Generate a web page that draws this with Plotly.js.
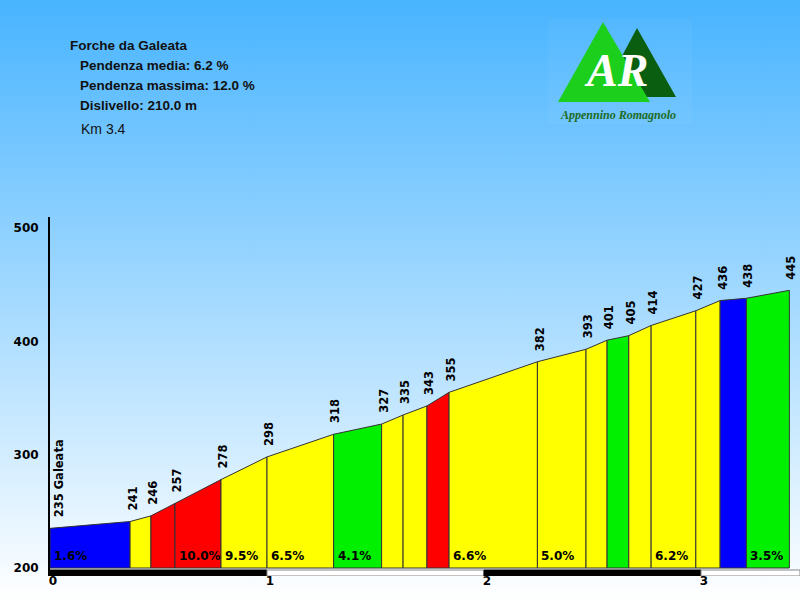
<!DOCTYPE html>
<html>
<head>
<meta charset="utf-8">
<script src="https://cdn.plot.ly/plotly-3.0.1.min.js"></script>
<style>
html, body { margin: 0; padding: 0; }
#chart { width: 800px; height: 600px; background: linear-gradient(to bottom, #48b4ff 0%, #ffffff 100%); }
</style>
</head>
<body>
<div id="chart"></div>
<script>
// ---- data ----
const kmPoints = [0, 0.369, 0.465, 0.576, 0.788, 1.0, 1.307, 1.528, 1.627, 1.737, 1.839, 2.246, 2.47, 2.567, 2.667, 2.77, 2.976, 3.088, 3.209, 3.407];
const elevations = [235, 241, 246, 257, 278, 298, 318, 327, 335, 343, 355, 382, 393, 401, 405, 414, 427, 436, 438, 445];
const pointLabels = ['235 Galeata', '241', '246', '257', '278', '298', '318', '327', '335', '343', '355', '382', '393', '401', '405', '414', '427', '436', '438', '445'];
const segmentColors = ['#0000ff', '#ffff00', '#ff0000', '#ff0000', '#ffff00', '#ffff00', '#00f000', '#ffff00', '#ffff00', '#ff0000',
                       '#ffff00', '#ffff00', '#ffff00', '#00f000', '#ffff00', '#ffff00', '#ffff00', '#0000ff', '#00f000'];
const segmentLabels = ['1.6%', '', '', '10.0%', '9.5%', '6.5%', '4.1%', '', '', '', '6.6%', '5.0%', '', '', '', '6.2%', '', '', '3.5%'];
const kmTicks = [0, 1, 2, 3];
const elevTicks = [200, 300, 400, 500];
const infoLines = ['Forche da Galeata', 'Pendenza media: 6.2 %', 'Pendenza massima: 12.0 %', 'Dislivello: 210.0 m', 'Km 3.4'];
const baseElev = 200;
const xMax = 3.456;

// ---- traces ----
const traces = [];
for (let i = 0; i < kmPoints.length - 1; i++) {
  traces.push({
    type: 'scatter', mode: 'lines',
    x: [kmPoints[i], kmPoints[i], kmPoints[i + 1], kmPoints[i + 1], kmPoints[i]],
    y: [baseElev, elevations[i], elevations[i + 1], baseElev, baseElev],
    fill: 'toself', fillcolor: segmentColors[i],
    line: { color: '#333333', width: 1 },
    hoverinfo: 'skip', showlegend: false
  });
}

// ---- annotations ----
const annotations = [];
const labelFont = { family: 'DejaVu Sans', size: 11.5, color: '#000', weight: 'bold' };
kmPoints.forEach((k, i) => {
  annotations.push({
    x: k, y: elevations[i], xref: 'x', yref: 'y', text: pointLabels[i],
    textangle: -90, showarrow: false, xanchor: 'center', yanchor: 'bottom',
    xshift: i === 0 ? 9 : 2, yshift: 10, font: labelFont, borderpad: 0
  });
});
segmentLabels.forEach((t, i) => {
  if (!t) return;
  annotations.push({
    x: kmPoints[i], y: baseElev, xref: 'x', yref: 'y', text: t,
    showarrow: false, xanchor: 'left', yanchor: 'bottom', xshift: 3, yshift: 4,
    font: { family: 'DejaVu Sans', size: 12, color: '#000', weight: 'bold' }, borderpad: 0
  });
});
// info text block (pixel positions converted to paper)
const L = 50, T = 217, W = 750, H = 359;
const px = v => (v - L) / W;
const py = v => (T + H - v) / H;
const infoX = [69, 79, 79, 79, 80];
const infoY = [45.7, 65.7, 85.7, 105.7, 129];
infoLines.forEach((t, i) => {
  const last = i === infoLines.length - 1;
  annotations.push({
    x: px(infoX[i]), y: py(infoY[i]), xref: 'paper', yref: 'paper', text: t,
    showarrow: false, xanchor: 'left', yanchor: 'middle', borderpad: 0,
    font: { family: 'Liberation Sans', size: last ? 14 : 13.5, color: '#111', weight: last ? 'normal' : 'bold' }
  });
});
// logo text
annotations.push({
  x: px(616), y: py(70), xref: 'paper', yref: 'paper', text: 'AR', showarrow: false,
  xanchor: 'center', yanchor: 'middle',
  font: { family: 'Liberation Serif', size: 46, color: '#ffffff', weight: 'bold', style: 'italic' }
});
annotations.push({
  x: px(618), y: py(115), xref: 'paper', yref: 'paper', text: 'Appennino Romagnolo', showarrow: false,
  xanchor: 'center', yanchor: 'middle',
  font: { family: 'Liberation Serif', size: 12, color: '#1d6b1d', weight: 'bold', style: 'italic' }
});

// ---- shapes ----
const shapes = [];
const barTop = baseElev - 2 / 1.1333, barBot = baseElev - 8 / 1.1333;
const barEdges = kmTicks.concat([xMax]);
for (let i = 0; i < barEdges.length - 1; i++) {
  const dark = i % 2 === 0;
  shapes.push({
    type: 'rect', xref: 'x', yref: 'y', x0: barEdges[i], x1: barEdges[i + 1], y0: barBot, y1: barTop,
    fillcolor: dark ? '#000000' : '#ffffff', line: { color: dark ? '#000000' : '#888888', width: 1 }, layer: 'above'
  });
}
// logo shapes
const path = pts => 'M' + pts.map(p => px(p[0]) + ',' + py(p[1])).join(' L') + ' Z';
shapes.push({ type: 'rect', xref: 'paper', yref: 'paper', x0: px(548), x1: px(692), y0: py(124), y1: py(19),
  fillcolor: 'rgba(255,255,255,0.04)', line: { width: 0 }, layer: 'below' });
shapes.push({ type: 'path', xref: 'paper', yref: 'paper', path: path([[637, 28], [676, 97], [600, 97]]),
  fillcolor: '#0a5e10', line: { width: 0 }, layer: 'below' });
shapes.push({ type: 'path', xref: 'paper', yref: 'paper', path: path([[603, 22], [650, 102], [558, 102]]),
  fillcolor: '#1ccf1c', line: { width: 0 }, layer: 'below' });

const layout = {
  width: 800, height: 600,
  margin: { l: L, r: 800 - L - W, t: T, b: 600 - T - H, pad: 0 },
  paper_bgcolor: 'rgba(0,0,0,0)', plot_bgcolor: 'rgba(0,0,0,0)',
  showlegend: false,
  xaxis: {
    range: [0, xMax], tickvals: kmTicks, ticktext: kmTicks.map(String), ticks: '', showgrid: false,
    zeroline: false, showline: false, ticklabelshift: 3, ticklabelstandoff: -4,
    tickfont: { family: 'DejaVu Sans', size: 12, color: '#000', weight: 'bold' }, fixedrange: true
  },
  yaxis: {
    range: [192.94, 509.71], tickvals: elevTicks, ticktext: elevTicks.map(String), ticks: '', showgrid: false,
    zeroline: false, showline: true, linecolor: '#000', linewidth: 2, ticklabelstandoff: 7,
    tickfont: { family: 'DejaVu Sans', size: 12, color: '#000', weight: 'bold' }, fixedrange: true
  },
  shapes: shapes,
  annotations: annotations
};

Plotly.newPlot('chart', traces, layout, { displayModeBar: false, staticPlot: true });
</script>
</body>
</html>
